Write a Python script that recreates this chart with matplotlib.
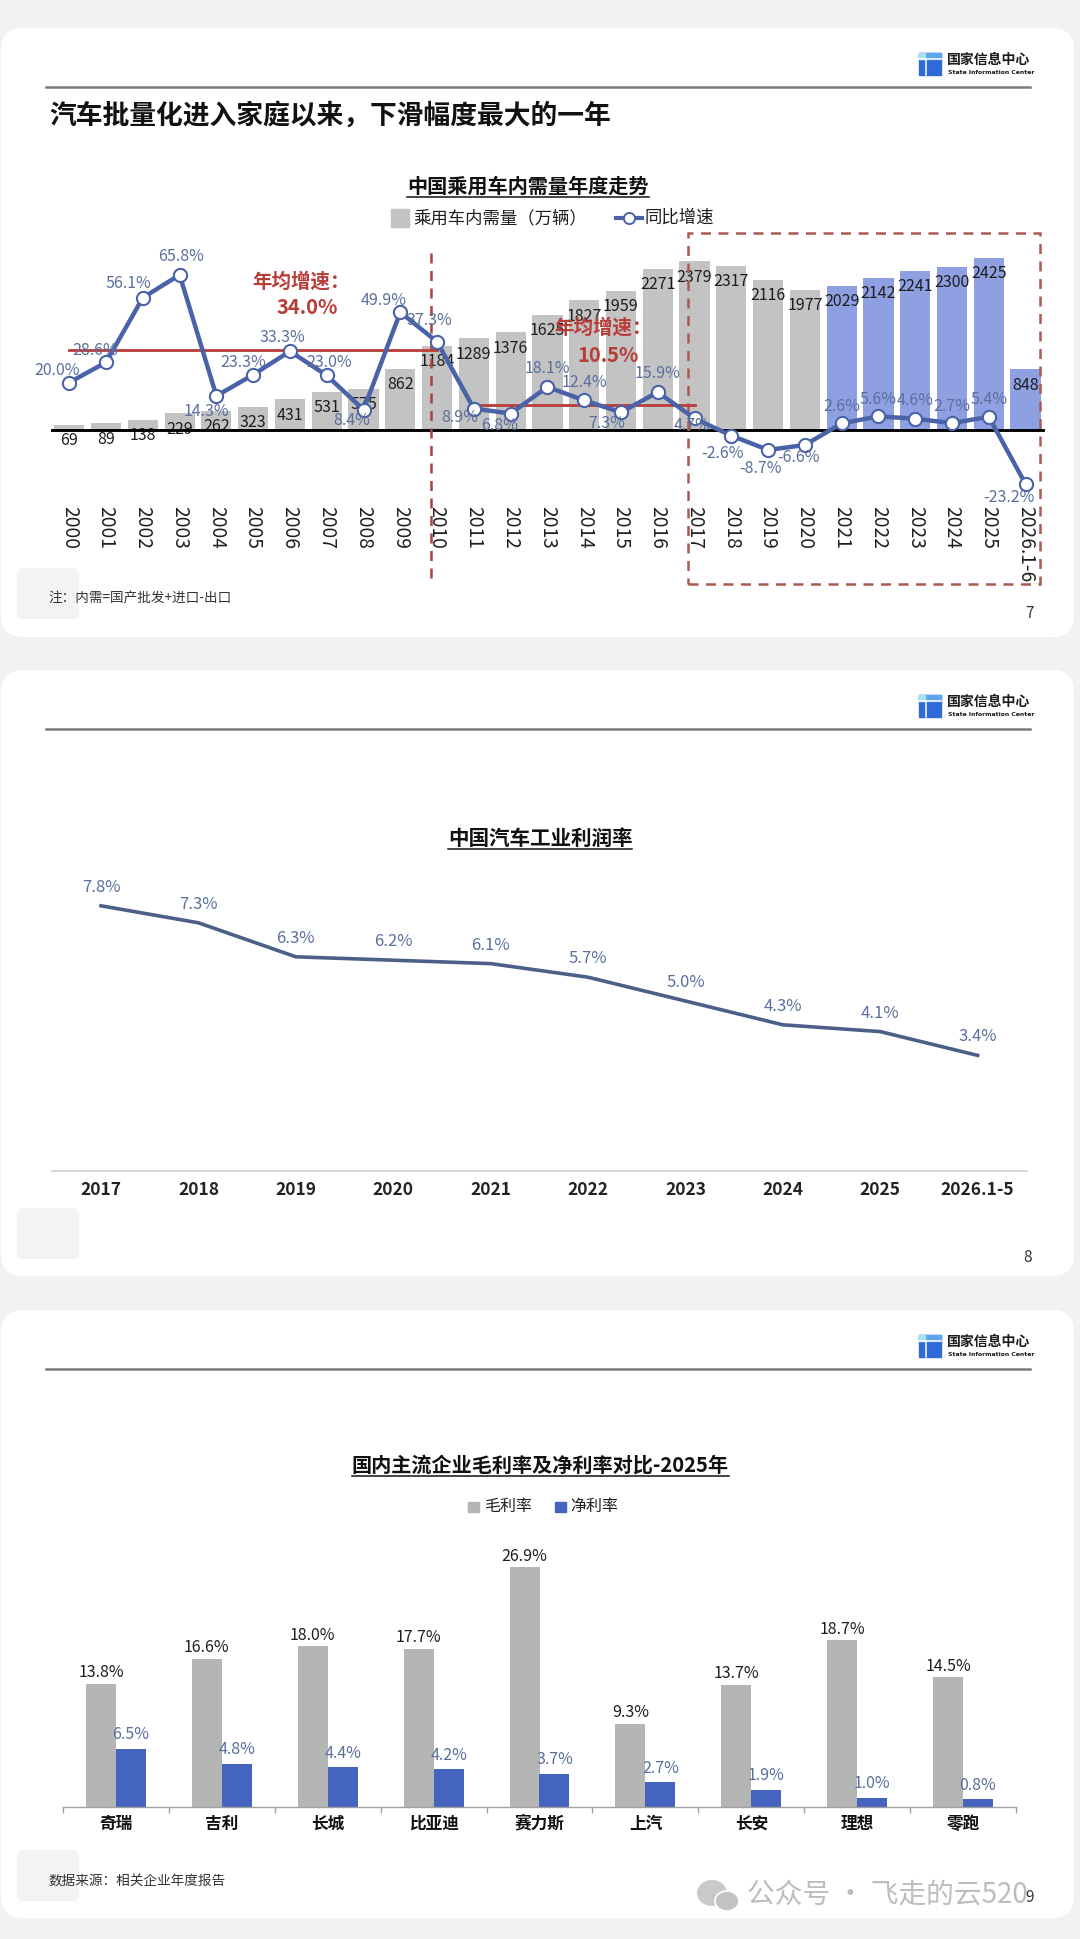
import matplotlib
matplotlib.use('Agg')
import matplotlib.pyplot as plt
from matplotlib.patches import FancyBboxPatch, Rectangle, Ellipse
from matplotlib.lines import Line2D
import numpy as np

plt.rcParams['font.family'] = ['Noto Sans CJK SC', 'DejaVu Sans']

# ---------------- data ----------------
years1 = ['2000', '2001', '2002', '2003', '2004', '2005', '2006', '2007', '2008', '2009',
          '2010', '2011', '2012', '2013', '2014', '2015', '2016', '2017', '2018', '2019',
          '2020', '2021', '2022', '2023', '2024', '2025', '2026.1-6']
demand = [69, 89, 138, 229, 262, 323, 431, 531, 575, 862, 1184, 1289, 1376, 1625, 1827,
          1959, 2271, 2379, 2317, 2116, 1977, 2029, 2142, 2241, 2300, 2425, 848]
growth = [20.0, 28.6, 56.1, 65.8, 14.3, 23.3, 33.3, 23.0, 8.4, 49.9, 37.3, 8.9, 6.8, 18.1,
          12.4, 7.3, 15.9, 4.7, -2.6, -8.7, -6.6, 2.6, 5.6, 4.6, 2.7, 5.4, -23.2]
avg_growth = [34.0, 10.5]
avg_start = ['2000', '2011']
avg_end = ['2010', '2017']
blue_from = '2021'

years2 = ['2017', '2018', '2019', '2020', '2021', '2022', '2023', '2024', '2025', '2026.1-5']
profit_rate = [7.8, 7.3, 6.3, 6.2, 6.1, 5.7, 5.0, 4.3, 4.1, 3.4]

companies = ['奇瑞', '吉利', '长城', '比亚迪', '赛力斯', '上汽', '长安', '理想', '零跑']
gross_margin = [13.8, 16.6, 18.0, 17.7, 26.9, 9.3, 13.7, 18.7, 14.5]
net_margin = [6.5, 4.8, 4.4, 4.2, 3.7, 2.7, 1.9, 1.0, 0.8]

# ---------------- layout helpers ----------------
W, H = 1080, 1939
fig = plt.figure(figsize=(W / 100, H / 100), dpi=100)
fig.patch.set_facecolor('#f1f2f4')

bg = fig.add_axes([0, 0, 1, 1])
bg.set_xlim(0, W)
bg.set_ylim(H, 0)
bg.axis('off')
bg.set_zorder(0)


def add_ax(x0, y0, x1, y1):
    a = fig.add_axes([x0 / W, 1 - y1 / H, (x1 - x0) / W, (y1 - y0) / H])
    a.patch.set_alpha(0)
    a.set_zorder(2)
    return a


TXT = '#1e1e1e'
PCT = '#5a6f9e'

panels = [(28, 609), (670, 606), (1310, 608)]
for top, h in panels:
    bg.add_patch(FancyBboxPatch((1, top), 1073, h, boxstyle='round,pad=0,rounding_size=22',
                                fc='white', ec='none'))


def header(T):
    y0 = T + 25
    bg.add_patch(Rectangle((919, y0), 22, 22, color='#2f6ad6'))
    bg.add_patch(Rectangle((919, y0), 22, 5.5, color='#5fa3ee'))
    bg.add_patch(Rectangle((919, y0), 5.5, 5.5, color='#a6e4f2'))
    bg.plot([919, 941], [y0 + 6, y0 + 6], color='white', lw=1.1)
    bg.plot([925.5, 925.5], [y0 + 6, y0 + 22], color='white', lw=1.1)
    bg.text(947, y0 + 7, '国家信息中心', fontsize=10, fontweight='bold', va='center',
            ha='left', color='#1a1a1a')
    bg.text(948, y0 + 19, 'State Information Center', fontsize=4.4, fontweight='bold',
            va='center', ha='left', color='#1a1a1a',
            family=['Liberation Sans Narrow', 'DejaVu Sans'])
    bg.plot([46, 1030], [T + 59, T + 59], color='#7b7b7b', lw=1.8)


for top, h in panels:
    header(top)


def faint_square(y):
    bg.add_patch(FancyBboxPatch((17, y), 62, 51, boxstyle='round,pad=0,rounding_size=6',
                                fc='#f3f3f3', ec='none'))


titles = []


def chart_title(x, y, s, size):
    t = bg.text(x, y, s, fontsize=size, fontweight='bold', ha='center', va='center', color='#111')
    titles.append((t, y))
    return t


# ================= Panel 1 =================
bg.text(49, 115.5, '汽车批量化进入家庭以来，下滑幅度最大的一年', fontsize=19.3,
        fontweight='bold', va='center', ha='left', color='#111')
chart_title(528, 186, '中国乘用车内需量年度走势', 14.5)

GRAY = '#c3c3c3'
LAV = '#8e9fe2'
LINE = '#4a62a8'
RED = '#b83c38'

# legend
bg.add_patch(Rectangle((391, 209), 18, 18, color=GRAY))
bg.text(413, 218, '乘用车内需量（万辆）', fontsize=12.5, va='center', ha='left', color=TXT)
bg.add_line(Line2D([616, 642], [218, 218], color=LINE, lw=3))
bg.plot([629], [218], marker='o', ms=8, mfc='white', mec=LINE, mew=1.4)
bg.text(644, 218, '同比增速', fontsize=12.5, va='center', ha='left', color=TXT)

Y0 = 429.5          # pixel row of zero
K_BAR = 0.07076     # px per unit
K_PCT = 2.35        # px per %
AX_T, AX_B = 230, 600
ax = add_ax(43.55, AX_T, 1051.3, AX_B)
ax.set_xlim(-0.7, 26.7)
ax.set_ylim(-(AX_B - Y0) / K_BAR, (Y0 - AX_T) / K_BAR)
ax.axis('off')
ax2 = ax.twinx()
ax2.set_ylim(-(AX_B - Y0) / K_PCT, (Y0 - AX_T) / K_PCT)
ax2.axis('off')
ax2.patch.set_alpha(0)


def ybar(py):
    return (Y0 - py) / K_BAR


xs = np.arange(len(years1))
ib = years1.index(blue_from)
colors = [GRAY if i < ib else LAV for i in xs]
ax.bar(xs, demand, width=0.82, color=colors, zorder=2)
for i, v in enumerate(demand):
    ax.annotate(str(v), (i, v), xytext=(0, -16 * 0.72), textcoords='offset points',
                ha='center', va='center', fontsize=11.5, color=TXT, zorder=3)
ax.plot([-0.47, 26.47], [0, 0], color='black', lw=2.1, zorder=4)

for i, y in enumerate(years1):
    ax.text(i, ybar(506), y, rotation=-90, ha='center', va='top', fontsize=13.8, color=TXT)

# dashed separators
ax.plot([9.83, 9.83], [ybar(253), ybar(583)], ls=(0, (4, 3)), color='#a8433f', lw=1.8,
        clip_on=False, zorder=5)
ax.add_patch(Rectangle((16.82, ybar(584)), 26.39 - 16.82, ybar(233) - ybar(584), fill=False,
                       ls=(0, (4, 3)), ec='#ab5a52', lw=1.8, clip_on=False, zorder=5))

# average growth lines
for a, s, e in zip(avg_growth, avg_start, avg_end):
    ax2.plot([years1.index(s), years1.index(e)], [a, a], color=RED, lw=2.0, zorder=3)

ax2.plot(xs, growth, color=LINE, lw=3.2, marker='o', ms=9.5, mfc='white', mec=LINE,
         mew=1.5, zorder=5)
offs = [(-12, 12), (-11, 12), (-14, 14), (1, 18), (-10, -16), (-10, 12), (-8, 14), (2, 13),
        (-12, -11), (-17, 12), (-8, 21), (-14, -9), (-11, -12), (0, 18), (0, 18), (-14, -11),
        (0, 19), (-2, -7), (-9, -18), (-8, -19), (-6, -12), (0, 17), (0, 17), (0, 18),
        (0, 17), (0, 17), (-17, -13)]
for i, (v, (dx, dy)) in enumerate(zip(growth, offs)):
    ax2.annotate(f'{v:.1f}%', (i, v), xytext=(dx * 0.72, dy * 0.72), textcoords='offset points',
                 ha='center', va='center', fontsize=11.5, color=PCT, zorder=6)

bg.text(301, 281.7, '年均增速：', fontsize=14, fontweight='bold', color=RED, ha='center',
        va='center', zorder=10)
bg.text(307, 308, f'{avg_growth[0]:.1f}%', fontsize=14.5, fontweight='bold', color=RED,
        ha='center', va='center', zorder=10)
fig.text(603 / W, 1 - 328 / H, '年均增速：', fontsize=14, fontweight='bold', color=RED,
         ha='center', va='center', zorder=10)
fig.text(608 / W, 1 - 355 / H, f'{avg_growth[1]:.1f}%', fontsize=14.5, fontweight='bold',
         color=RED, ha='center', va='center', zorder=10)

faint_square(568)
bg.text(48, 599, '注：内需=国产批发+进口-出口', fontsize=9.8, va='center', ha='left', color='#333')
bg.text(1029, 614, '7', fontsize=11, va='center', ha='center', color='#333')

# ================= Panel 2 =================
chart_title(540, 838, '中国汽车工业利润率', 14.8)
LINE2 = '#4c5f88'
K2 = 34.0
axb = add_ax(52, 860, 1027, 1171)
axb.set_xlim(-0.503, 9.507)
axb.set_ylim(0, 311 / K2)
x2 = np.arange(len(years2))
axb.plot(x2, profit_rate, color=LINE2, lw=2.6)
for i, v in enumerate(profit_rate):
    axb.annotate(f'{v:.1f}%', (i, v), xytext=(0, 18.5 * 0.72), textcoords='offset points',
                 ha='center', va='center', fontsize=12, color=PCT)
for s in ['top', 'right', 'left']:
    axb.spines[s].set_visible(False)
axb.spines['bottom'].set_color('#d4d4d4')
axb.spines['bottom'].set_linewidth(1.3)
axb.set_yticks([])
axb.set_xticks(x2)
axb.set_xticklabels(years2, fontsize=12.5, fontweight='bold', color='#222')
axb.tick_params(axis='x', length=0, pad=7)

faint_square(1208)
bg.text(1028, 1258, '8', fontsize=11, va='center', ha='center', color='#333')

# ================= Panel 3 =================
chart_title(540, 1465, '国内主流企业毛利率及净利率对比-2025年', 14.5)
G3 = '#b5b5b5'
B3 = '#4464c0'
bg.add_patch(Rectangle((468, 1501.5), 10.5, 10.5, color=G3))
bg.text(484, 1506.5, '毛利率', fontsize=11.5, va='center', ha='left', color=TXT)
bg.add_patch(Rectangle((555, 1501.5), 10.5, 10.5, color=B3))
bg.text(570, 1506.5, '净利率', fontsize=11.5, va='center', ha='left', color=TXT)

K3 = 8.9
axc = add_ax(63, 1530, 1016, 1806.5)
axc.set_xlim(-0.5, 8.5)
axc.set_ylim(0, 276.5 / K3)
x3 = np.arange(len(companies))
bw = 0.283
axc.bar(x3 - bw / 2, gross_margin, width=bw, color=G3)
axc.bar(x3 + bw / 2, net_margin, width=bw, color=B3)
for i, v in enumerate(gross_margin):
    axc.annotate(f'{v:.1f}%', (i - bw / 2, v), xytext=(0, 11 * 0.72), textcoords='offset points',
                 ha='center', va='center', fontsize=11.5, color=TXT)
for i, v in enumerate(net_margin):
    axc.annotate(f'{v:.1f}%', (i + bw / 2, v), xytext=(0, 14 * 0.72), textcoords='offset points',
                 ha='center', va='center', fontsize=11.5, color=PCT)
for s in ['top', 'right', 'left']:
    axc.spines[s].set_visible(False)
axc.spines['bottom'].set_color('#a0a0a0')
axc.spines['bottom'].set_linewidth(1.0)
axc.set_yticks([])
axc.set_xticks(x3)
axc.set_xticklabels(companies, fontsize=12, fontweight='bold', color='#111')
axc.tick_params(axis='x', which='major', length=0, pad=6)
axc.set_xticks(np.arange(-0.5, len(companies)), minor=True)
axc.tick_params(axis='x', which='minor', length=4, color='#a0a0a0', width=1)

faint_square(1850)
bg.text(48, 1881, '数据来源：相关企业年度报告', fontsize=9.8, va='center', ha='left', color='#333')
bg.add_patch(Ellipse((712, 1893), 30, 26, fc='#c9c9c9', ec='none'))
bg.add_patch(Ellipse((727, 1901), 24, 20, fc='#c2c2c2', ec='white', lw=1.2))
bg.text(747, 1895, '公众号 · 飞走的云520', fontsize=20, va='center', ha='left', color='#bdbdbd')
bg.text(1030, 1898, '9', fontsize=11, va='center', ha='center', color='#333')

# underlines for chart titles
fig.canvas.draw()
r = fig.canvas.get_renderer()
inv = bg.transData.inverted()
for t, y in titles:
    bb = t.get_window_extent(r)
    (xa, _), (xb, _) = inv.transform([[bb.x0, bb.y0], [bb.x1, bb.y1]])
    bg.plot([xa, xb], [y + 11, y + 11], color='#111', lw=1.1)

fig.savefig('out.png', dpi=100, facecolor=fig.get_facecolor())
